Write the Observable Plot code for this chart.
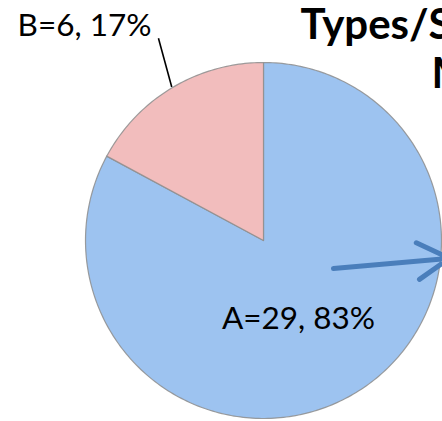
<!DOCTYPE html>
<html><head><meta charset="utf-8">
<script src="https://cdn.jsdelivr.net/npm/d3@7"></script>
<script src="https://cdn.jsdelivr.net/npm/@observablehq/plot@0.6"></script>
<style>
html,body{margin:0;padding:0;background:#fff;overflow:hidden;width:442px;height:421px}
#chart svg{display:block;overflow:hidden}
</style></head><body><div id="chart"></div>
<script>
const categories = ["A", "B"];
const values = [29, 6];
const percentLabels = ["83%", "17%"];
const titleLines = ["Types/S", "M"];
const sliceColors = ["#9dc3f0", "#f2bdbd"];

const W = 442, H = 421, CX = 263, CY = 240, R = 178;
const arcs = d3.pie().sort(null).value(d => d)(values);
const pt = (a, r) => ({x: r * Math.sin(a), y: r * Math.cos(a)});
const deg = Math.PI / 180;

const sliceData = arcs.map((a, i) => {
  const pts = [{...pt(0, 0)}];
  const n = Math.ceil((a.endAngle - a.startAngle) / deg);
  for (let k = 0; k <= n; k++) {
    const t = a.startAngle + (a.endAngle - a.startAngle) * k / n;
    pts.push(pt(t, 1));
  }
  pts.push(pt(0, 0));
  return pts;
});

const labelText = categories.map((c, i) => `${c}=${values[i]}, ${percentLabels[i]}`);
const midB = (arcs[1].startAngle + arcs[1].endAngle) / 2;
const leaderB = [{p1: pt(midB, 1.005), p2: pt(midB + 3.4 * deg, 1.28)}];
const labelA = [{...pt(155.8 * deg, 0.48), text: labelText[0]}];
const labelB = [{...leaderB[0].p2, text: labelText[1]}];
const arrowA = [{p1: {x: 0.393, y: -0.157}, p2: {x: 1.045, y: -0.1}}];

const marks = [];
sliceData.forEach((pts, i) => {
  marks.push(Plot.line(pts, {x: "x", y: "y", fill: sliceColors[i], stroke: "#8d8d8d", strokeWidth: 1.2, strokeOpacity: 0.85, curve: "linear"}));
});
marks.push(
  Plot.link(leaderB, {x1: d => d.p1.x, y1: d => d.p1.y, x2: d => d.p2.x, y2: d => d.p2.y, stroke: "#000", strokeWidth: 1.6}),
  Plot.text(labelB, {x: "x", y: "y", text: "text", textAnchor: "end", dx: -7, dy: -12, fontSize: 31.5, fill: "#000"}),
  Plot.text(labelA, {x: "x", y: "y", text: "text", textAnchor: "middle", fontSize: 31.5, fill: "#000"}),
  Plot.arrow(arrowA, {x1: d => d.p1.x, y1: d => d.p1.y, x2: d => d.p2.x, y2: d => d.p2.y, stroke: "#4a7ebb", strokeWidth: 5, headLength: 11, bend: 0}),
  Plot.text([titleLines[0]], {frameAnchor: "top-left", text: d => d, dx: 300, dy: 9, textAnchor: "start", fontSize: 42, fontWeight: "bold", fill: "#000"}),
  Plot.text([titleLines[1]], {frameAnchor: "top-left", text: d => d, dx: 431, dy: 58, textAnchor: "start", fontSize: 42, fontWeight: "bold", fill: "#000"})
);

const chart = Plot.plot({
  width: W, height: H,
  margin: 0,
  style: {fontFamily: "Lato, 'Open Sans', sans-serif", background: "#fff"},
  x: {domain: [-CX / R, (W - CX) / R], axis: null},
  y: {domain: [-(H - CY) / R, CY / R], axis: null},
  marks
});
document.getElementById("chart").append(chart);
</script>
</body></html>
